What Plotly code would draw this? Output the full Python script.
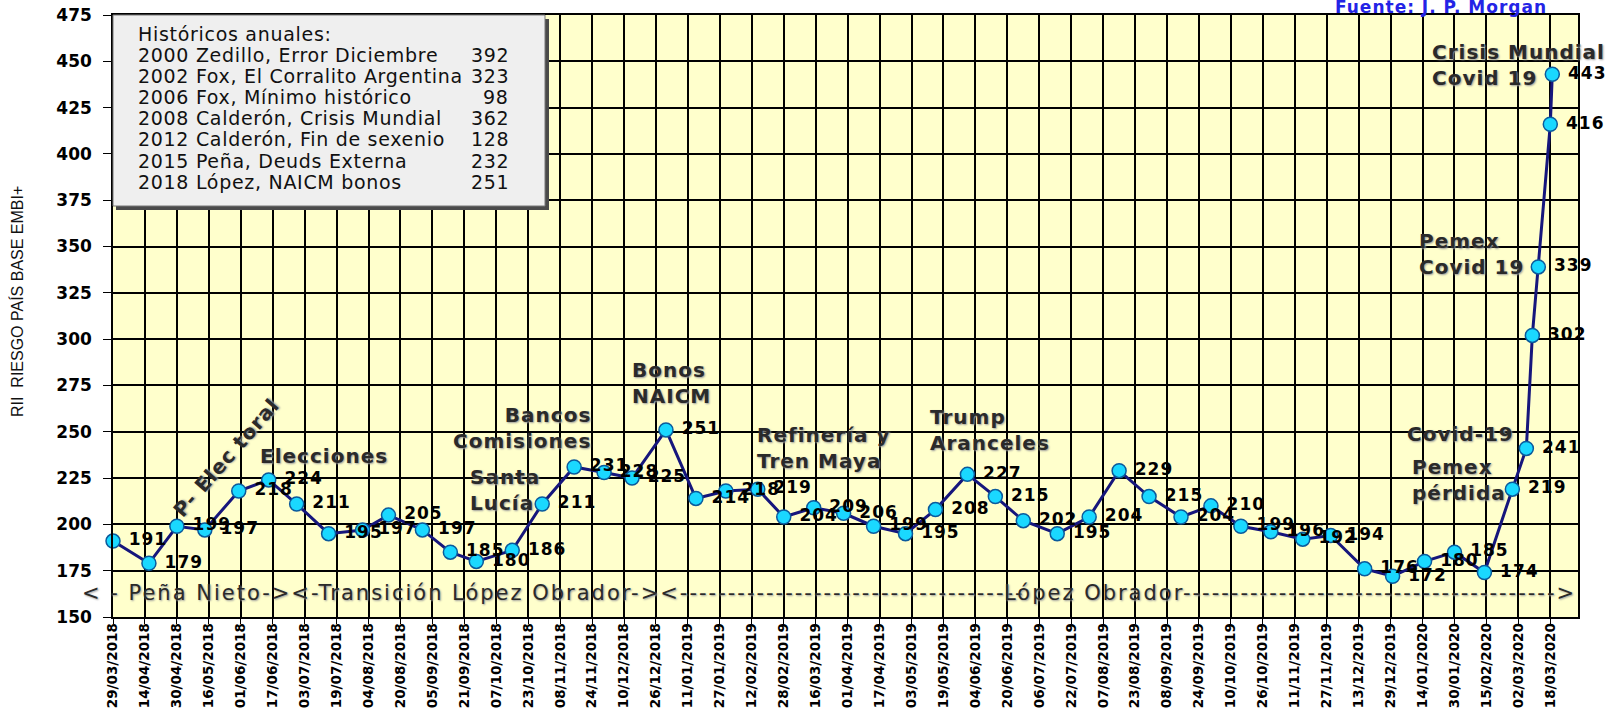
import plotly.graph_objects as go
import pandas as pd

# ---------------- data ----------------
dates = ["2018-03-29", "2018-04-16", "2018-04-30", "2018-05-14", "2018-05-31", "2018-06-15",
         "2018-06-29", "2018-07-15", "2018-08-01", "2018-08-14", "2018-08-31", "2018-09-14",
         "2018-09-27", "2018-10-15", "2018-10-30", "2018-11-15", "2018-11-30", "2018-12-14",
         "2018-12-31", "2019-01-15", "2019-01-30", "2019-02-15", "2019-02-28", "2019-03-15",
         "2019-03-30", "2019-04-14", "2019-04-30", "2019-05-15", "2019-05-31", "2019-06-14",
         "2019-06-28", "2019-07-15", "2019-07-31", "2019-08-15", "2019-08-30", "2019-09-15",
         "2019-09-30", "2019-10-15", "2019-10-30", "2019-11-15", "2019-11-29", "2019-12-16",
         "2019-12-30", "2020-01-15", "2020-01-30", "2020-02-14", "2020-02-28", "2020-03-06",
         "2020-03-09", "2020-03-12", "2020-03-18", "2020-03-19"]
embi = [191, 179, 199, 197, 218, 224, 211, 195, 197, 205,
        197, 185, 180, 186, 211, 231, 228, 225, 251, 214,
        218, 219, 204, 209, 206, 199, 195, 208, 227, 215,
        202, 195, 204, 229, 215, 204, 210, 199, 196, 192,
        194, 176, 172, 180, 185, 174, 219, 241, 302, 339,
        416, 443]

tick_labels = ["29/03/2018", "14/04/2018", "30/04/2018", "16/05/2018", "01/06/2018", "17/06/2018",
               "03/07/2018", "19/07/2018", "04/08/2018", "20/08/2018", "05/09/2018", "21/09/2018",
               "07/10/2018", "23/10/2018", "08/11/2018", "24/11/2018", "10/12/2018", "26/12/2018",
               "11/01/2019", "27/01/2019", "12/02/2019", "28/02/2019", "16/03/2019", "01/04/2019",
               "17/04/2019", "03/05/2019", "19/05/2019", "04/06/2019", "20/06/2019", "06/07/2019",
               "22/07/2019", "07/08/2019", "23/08/2019", "08/09/2019", "24/09/2019", "10/10/2019",
               "26/10/2019", "11/11/2019", "27/11/2019", "13/12/2019", "29/12/2019", "14/01/2020",
               "30/01/2020", "15/02/2020", "02/03/2020", "18/03/2020"]
tick_dates = pd.to_datetime(tick_labels, format="%d/%m/%Y")

y_ticks = [150, 175, 200, 225, 250, 275, 300, 325, 350, 375, 400, 425, 450, 475]

hist_title = "Históricos anuales:"
hist_labels = ["2000 Zedillo, Error Diciembre", "2002 Fox, El Corralito Argentina",
               "2006 Fox, Mínimo histórico", "2008 Calderón, Crisis Mundial",
               "2012 Calderón, Fin de sexenio", "2015 Peña, Deuds Externa",
               "2018 López, NAICM bonos"]
hist_values = [392, 323, 98, 362, 128, 232, 251]

event_texts = ["Elecciones", "Bancos<br>Comisiones", "Santa<br>Lucía", "Bonos<br>NAICM",
               "Refinería y<br>Tren Maya", "Trump<br>Aranceles", "Covid-19",
               "Pemex<br>pérdida", "Pemex<br>Covid 19", "Crisis Mundial<br>Covid 19"]
electoral_text = "P- Elec toral"
period_left = "< - Peña Nieto-><-Transición López Obrador-><"
period_right = "López Obrador"
source_text = "Fuente: J. P. Morgan"
y_title = "RII  RIESGO PAÍS BASE EMBI+"

# ---------------- layout helpers ----------------
FW, FH = 1612, 717
ML, MR, MT, MB = 113, 34, 15, 100
PW, PH = FW - ML - MR, FH - MT - MB


def px(x):
    return (x - ML) / PW


def py(y):
    return (FH - MB - y) / PH


def spaced(text, ls):
    return "<br>".join("<span style='letter-spacing:%spx'>%s</span>" % (ls, part)
                       for part in text.split("<br>"))


label_font = dict(family="DejaVu Sans", size=17, color="black", weight="bold")
event_font = dict(family="DejaVu Sans", size=20, color="#2a2a2a", weight="bold",
                  shadow="1px 1px 2px #9a9a9a")
period_font = dict(family="DejaVu Sans", size=21, color="#2a2a2a",
                   shadow="1px 1px 2px #9a9a9a")
box_font = dict(family="DejaVu Sans", size=19, color="#111111")

fig = go.Figure()
fig.add_trace(go.Scatter(
    x=pd.to_datetime(dates), y=embi,
    mode="lines+markers+text",
    line=dict(color="#16167c", width=3),
    marker=dict(symbol="circle", size=14, color="#1ad8ff",
                line=dict(color="#0b5a9c", width=1.5)),
    text=[str(v) for v in embi],
    texttemplate=" <span style='letter-spacing:1px'>%{text}</span>",
    textposition="middle right",
    textfont=label_font,
    cliponaxis=False,
    showlegend=False,
    hoverinfo="x+y",
))

annotations = []

# event annotations (anchor px, center y px, anchor side)
event_pos = [(258, 456, "left"), (593, 428, "right"), (468, 490, "left"), (630, 383, "left"),
             (755, 448, "left"), (928, 430, "left"), (1405, 434, "left"), (1410, 480, "left"),
             (1417, 254, "left"), (1430, 65, "left")]
for txt, (ex, ey, anc) in zip(event_texts, event_pos):
    annotations.append(dict(text=spaced(txt, 1), xref="paper", yref="paper", x=px(ex), y=py(ey),
                            xanchor=anc, yanchor="middle", align=anc, showarrow=False,
                            font=event_font))
annotations.append(dict(text=spaced(electoral_text, 1), xref="paper", yref="paper",
                        x=px(226), y=py(458), xanchor="center", yanchor="middle",
                        textangle=-49, showarrow=False, font=event_font))

# period line
annotations.append(dict(text=spaced(period_left + "-" * 36, 2), xref="paper", yref="paper",
                        x=px(80), y=py(593), xanchor="left", yanchor="middle",
                        showarrow=False, font=period_font))
annotations.append(dict(text=spaced(period_right + "-" * 39 + ">", 2), xref="paper", yref="paper",
                        x=px(1002), y=py(593), xanchor="left", yanchor="middle",
                        showarrow=False, font=period_font))

# historical box text
annotations.append(dict(text=spaced(hist_title, 0.7), xref="paper", yref="paper",
                        x=px(136), y=py(34), xanchor="left", yanchor="middle",
                        showarrow=False, font=box_font))
for i, (lab, val) in enumerate(zip(hist_labels, hist_values)):
    yy = py(55 + 21.1 * i)
    annotations.append(dict(text=spaced(lab, 0.7), xref="paper", yref="paper", x=px(136), y=yy,
                            xanchor="left", yanchor="middle", showarrow=False, font=box_font))
    annotations.append(dict(text=spaced(str(val), 0.7), xref="paper", yref="paper", x=px(511),
                            y=yy, xanchor="right", yanchor="middle", showarrow=False,
                            font=box_font))

# source (partly cut at the top edge, as in the reference)
annotations.append(dict(text=spaced(source_text, 1), xref="paper", yref="paper", x=px(1441),
                        y=py(7), xanchor="center", yanchor="middle", showarrow=False,
                        font=dict(family="DejaVu Sans", size=17, color="#2424e6", weight="bold")))

# y axis title
annotations.append(dict(text=y_title, xref="paper", yref="paper", x=px(17), y=py(302),
                        xanchor="center", yanchor="middle", textangle=-90, showarrow=False,
                        font=dict(family="Liberation Sans, Arial, sans-serif",
                                  size=16, color="#111111")))

shapes = [
    dict(type="rect", xref="paper", yref="paper", x0=px(116), x1=px(549), y0=py(210), y1=py(19),
         fillcolor="#4a4a4a", line=dict(width=0), layer="above"),
    dict(type="rect", xref="paper", yref="paper", x0=px(113), x1=px(545), y0=py(206), y1=py(15),
         fillcolor="#efefef", line=dict(color="#777777", width=1), layer="above"),
]

fig.update_layout(
    width=FW, height=FH, autosize=False,
    margin=dict(l=ML, r=MR, t=MT, b=MB, autoexpand=False),
    paper_bgcolor="white", plot_bgcolor="#ffffcc",
    annotations=annotations, shapes=shapes,
    showlegend=False,
)
fig.update_xaxes(
    type="date", range=["2018-03-29", "2020-03-31 21:00"], automargin=False,
    tickmode="array", tickvals=tick_dates, ticktext=tick_labels,
    tickangle=-90, tickfont=dict(family="DejaVu Sans", size=13.5, color="black", weight="bold"),
    ticks="outside", ticklen=5, tickcolor="black", ticklabelstandoff=-6,
    showgrid=True, gridcolor="black", gridwidth=1.5,
    showline=True, linecolor="black", linewidth=1.5, mirror=True,
    zeroline=False,
)
fig.update_yaxes(
    range=[150, 475], tickmode="array", tickvals=y_ticks, automargin=False,
    tickfont=dict(family="DejaVu Sans", size=17, color="black", weight="bold"),
    ticks="outside", ticklen=8, tickcolor="black", ticklabelstandoff=8,
    showgrid=True, gridcolor="black", gridwidth=1.5,
    showline=True, linecolor="black", linewidth=1.5, mirror=True,
    zeroline=False,
)

fig.write_html("out.html", config={"displayModeBar": False},
               post_script="document.body.style.margin='0';document.body.style.overflow='hidden';")
